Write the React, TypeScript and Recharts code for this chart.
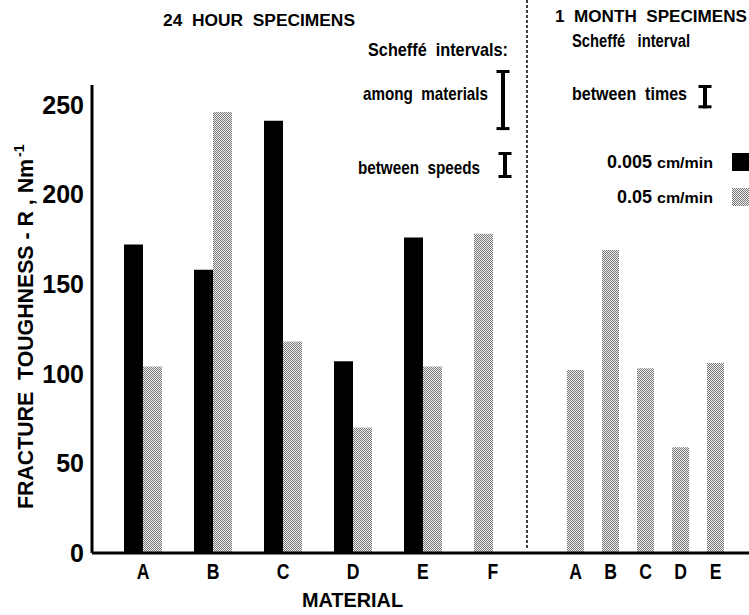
import { BarChart, Bar, XAxis, YAxis } from "recharts";

// 24 hour specimens (R, N/m)
const materials24 = ["A", "B", "C", "D", "E", "F"];
const slow24: (number | null)[] = [172, 158, 241, 107, 176, null]; // 0.005 cm/min
const fast24 = [104, 246, 118, 70, 104, 178]; // 0.05 cm/min

// 1 month specimens
const materials1m = ["A", "B", "C", "D", "E"];
const fast1m = [102, 169, 103, 59, 106];

const yTicks = [0, 50, 100, 150, 200, 250];

// Scheffé interval lengths, in R units
const amongMaterials = 33.5;
const betweenSpeeds = 14.5;
const betweenTimes = 13;

const legendItems = [
  { rate: "0.005", unit: "cm/min", kind: "solid" },
  { rate: "0.05", unit: "cm/min", kind: "dots" },
];

const rows24 = materials24.map((m, i) => ({
  material: m,
  slow: slow24[i],
  // a lone fast bar takes the first slot, like in the original figure
  fastAlone: slow24[i] == null ? fast24[i] : null,
  fast: slow24[i] == null ? null : fast24[i],
}));

const rows1m = materials1m.map((m, i) => ({ material: m, fast: fast1m[i] }));

const FONT = "'Liberation Sans', Arial, sans-serif";

const TOP = 85;
const BASE = 553;
const Y_MAX = 261;
const PX_PER_UNIT = (BASE - TOP) / Y_MAX;

const Dots = ({ id }: { id: string }) => (
  <defs>
    <pattern id={id} width="2" height="2" patternUnits="userSpaceOnUse">
      <rect width="2" height="2" fill="#f0f0f0" />
      <rect width="1" height="1" fill="#777" />
      <rect x="1" y="1" width="1" height="1" fill="#777" />
    </pattern>
  </defs>
);

const axisLine = { stroke: "#000", strokeWidth: 3 };

// narrow bold letters for the category ticks
const XTick = ({ x, y, payload }: any) => (
  <text x={x} y={y + 18} textAnchor="middle" fontFamily={FONT} fontWeight="bold" fontSize={22} fill="#000" transform={`translate(${x} 0) scale(0.8 1) translate(${-x} 0)`}>
    {payload.value}
  </text>
);

const IBeam = ({ cx, top, units }: { cx: number; top: number; units: number }) => {
  const h = units * PX_PER_UNIT;
  return (
    <g fill="#000">
      <rect x={cx - 2} y={top} width={4} height={h} />
      <rect x={cx - 6.5} y={top} width={13} height={3} />
      <rect x={cx - 6.5} y={top + h - 3} width={13} height={3} />
    </g>
  );
};

const Note = ({ x, y, w, size = 19, children }: { x: number; y: number; w: number; size?: number; children: any }) => (
  <text
    x={x}
    y={y}
    textLength={w}
    lengthAdjust="spacingAndGlyphs"
    fontFamily={FONT}
    fontWeight="bold"
    fontSize={size}
    fill="#000"
    style={{ whiteSpace: "pre" }}
  >
    {children}
  </text>
);

export default function App() {
  return (
    <div style={{ position: "absolute", left: 0, top: 0, width: 749, height: 615, background: "#fff", overflow: "hidden" }}>
      <div style={{ position: "absolute", left: 0, top: 0 }}>
        <BarChart width={528} height={615} data={rows24} margin={{ top: TOP, right: 0, bottom: 0, left: 0 }} barGap={0} barSize={19}>
          <Dots id="dots24" />
          <XAxis dataKey="material" axisLine={axisLine} tickLine={false} tick={<XTick />} padding={{ left: 16, right: 0 }} height={615 - BASE} />
          <YAxis
            type="number"
            domain={[0, Y_MAX]}
            ticks={yTicks}
            width={92}
            axisLine={axisLine}
            tickLine={false}
            tick={{ fill: "#000", fontSize: 25, fontWeight: "bold", fontFamily: FONT }}
          />
          <Bar dataKey="slow" stackId="s" fill="#000" isAnimationActive={false} />
          <Bar dataKey="fastAlone" stackId="s" fill="url(#dots24)" isAnimationActive={false} />
          <Bar dataKey="fast" fill="url(#dots24)" isAnimationActive={false} />
        </BarChart>
      </div>
      <div style={{ position: "absolute", left: 528, top: 0 }}>
        <BarChart width={221} height={615} data={rows1m} margin={{ top: TOP, right: 0, bottom: 0, left: 0 }} barSize={17}>
          <Dots id="dots1m" />
          <XAxis dataKey="material" axisLine={axisLine} tickLine={false} tick={<XTick />} padding={{ left: 30, right: 16 }} height={615 - BASE} />
          <YAxis hide type="number" domain={[0, Y_MAX]} ticks={yTicks} />
          <Bar dataKey="fast" fill="url(#dots1m)" isAnimationActive={false} />
        </BarChart>
      </div>

      <svg width={749} height={615} style={{ position: "absolute", left: 0, top: 0, pointerEvents: "none" }}>
        <line x1={527} y1={0} x2={527} y2={548} stroke="#000" strokeWidth={1.5} strokeDasharray="3 2" />

        <g transform="rotate(-90 33 323)">
          <Note x={33 - 186} y={323} w={350} size={22}>FRACTURE  TOUGHNESS - R , Nm</Note>
          <text x={33 + 166} y={314} fontFamily={FONT} fontWeight="bold" fontSize={14} fill="#000">-1</text>
        </g>
        <Note x={302} y={607} w={101} size={20}>MATERIAL</Note>

        <Note x={163} y={26} w={192} size={16}>24  HOUR  SPECIMENS</Note>
        <Note x={368} y={56} w={140}>Scheffé  intervals:</Note>
        <Note x={363} y={100} w={125}>among  materials</Note>
        <Note x={358} y={174} w={122}>between  speeds</Note>
        <IBeam cx={503} top={70} units={amongMaterials} />
        <IBeam cx={505} top={152} units={betweenSpeeds} />

        <Note x={555} y={22} w={192} size={16}>1  MONTH  SPECIMENS</Note>
        <Note x={572} y={47} w={118}>Scheffé   interval</Note>
        <Note x={572} y={100} w={115}>between  times</Note>
        <IBeam cx={705} top={85} units={betweenTimes} />

        {legendItems.map((it, i) => (
          <g key={it.rate}>
            <text x={652} y={168 + i * 35} textAnchor="end" fontFamily={FONT} fontWeight="bold" fontSize={18} fill="#000">
              {it.rate}
            </text>
            <Note x={657} y={168 + i * 35} w={56} size={15}>{it.unit}</Note>
            <rect x={732} y={153 + i * 35} width={20} height={18} fill={it.kind === "solid" ? "#000" : "url(#dots24)"} />
          </g>
        ))}
      </svg>
    </div>
  );
}
